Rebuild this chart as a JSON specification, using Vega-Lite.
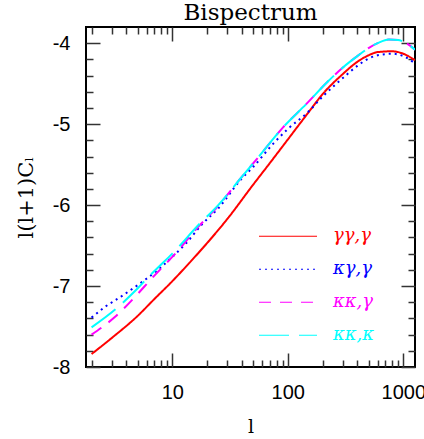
{
  "$schema": "https://vega.github.io/schema/vega-lite/v6.json",
  "width": 329,
  "height": 340,
  "autosize": "none",
  "padding": {"left": 86, "top": 27, "right": 9, "bottom": 72},
  "background": "white",
  "title": {"text": "Bispectrum", "font": "DejaVu Serif", "fontSize": 23, "fontWeight": "normal", "color": "black", "offset": 1, "anchor": "middle", "frame": "group"},
  "config": {"view": {"stroke": "black", "strokeWidth": 2}},
  "data": {"values": [
    {"l": 2, "v": -7.84, "s": "γγ,γ"}, {"l": 3, "v": -7.64, "s": "γγ,γ"}, {"l": 5, "v": -7.37, "s": "γγ,γ"}, {"l": 7, "v": -7.16, "s": "γγ,γ"}, {"l": 10, "v": -6.94, "s": "γγ,γ"}, {"l": 15, "v": -6.67, "s": "γγ,γ"}, {"l": 20, "v": -6.47, "s": "γγ,γ"}, {"l": 30, "v": -6.17, "s": "γγ,γ"}, {"l": 50, "v": -5.75, "s": "γγ,γ"}, {"l": 70, "v": -5.48, "s": "γγ,γ"}, {"l": 100, "v": -5.19, "s": "γγ,γ"}, {"l": 150, "v": -4.86, "s": "γγ,γ"}, {"l": 200, "v": -4.63, "s": "γγ,γ"}, {"l": 300, "v": -4.38, "s": "γγ,γ"}, {"l": 400, "v": -4.23, "s": "γγ,γ"}, {"l": 500, "v": -4.15, "s": "γγ,γ"}, {"l": 600, "v": -4.11, "s": "γγ,γ"}, {"l": 800, "v": -4.10, "s": "γγ,γ"}, {"l": 1000, "v": -4.13, "s": "γγ,γ"}, {"l": 1263, "v": -4.21, "s": "γγ,γ"},
    {"l": 2, "v": -7.39, "s": "κγ,γ"}, {"l": 2.6, "v": -7.26, "s": "κγ,γ"}, {"l": 3.6, "v": -7.13, "s": "κγ,γ"}, {"l": 5, "v": -6.99, "s": "κγ,γ"}, {"l": 7.8, "v": -6.78, "s": "κγ,γ"}, {"l": 10, "v": -6.64, "s": "κγ,γ"}, {"l": 13, "v": -6.48, "s": "κγ,γ"}, {"l": 18, "v": -6.24, "s": "κγ,γ"}, {"l": 25, "v": -6.04, "s": "κγ,γ"}, {"l": 40, "v": -5.67, "s": "κγ,γ"}, {"l": 50, "v": -5.53, "s": "κγ,γ"}, {"l": 75, "v": -5.24, "s": "κγ,γ"}, {"l": 100, "v": -5.06, "s": "κγ,γ"}, {"l": 150, "v": -4.85, "s": "κγ,γ"}, {"l": 200, "v": -4.66, "s": "κγ,γ"}, {"l": 300, "v": -4.43, "s": "κγ,γ"}, {"l": 400, "v": -4.28, "s": "κγ,γ"}, {"l": 500, "v": -4.19, "s": "κγ,γ"}, {"l": 600, "v": -4.15, "s": "κγ,γ"}, {"l": 800, "v": -4.13, "s": "κγ,γ"}, {"l": 1000, "v": -4.16, "s": "κγ,γ"}, {"l": 1263, "v": -4.25, "s": "κγ,γ"},
    {"l": 2, "v": -7.60, "s": "κκ,γ"}, {"l": 3.2, "v": -7.38, "s": "κκ,γ"}, {"l": 5, "v": -7.10, "s": "κκ,γ"}, {"l": 6.5, "v": -6.92, "s": "κκ,γ"}, {"l": 7.8, "v": -6.80, "s": "κκ,γ"}, {"l": 10, "v": -6.64, "s": "κκ,γ"}, {"l": 17, "v": -6.26, "s": "κκ,γ"}, {"l": 25, "v": -6.01, "s": "κκ,γ"}, {"l": 38, "v": -5.69, "s": "κκ,γ"}, {"l": 57, "v": -5.39, "s": "κκ,γ"}, {"l": 91, "v": -5.04, "s": "κκ,γ"}, {"l": 145, "v": -4.75, "s": "κκ,γ"}, {"l": 220, "v": -4.48, "s": "κκ,γ"}, {"l": 300, "v": -4.30, "s": "κκ,γ"}, {"l": 400, "v": -4.16, "s": "κκ,γ"}, {"l": 500, "v": -4.06, "s": "κκ,γ"}, {"l": 600, "v": -4.00, "s": "κκ,γ"}, {"l": 750, "v": -3.955, "s": "κκ,γ"}, {"l": 900, "v": -3.96, "s": "κκ,γ"}, {"l": 1000, "v": -3.98, "s": "κκ,γ"}, {"l": 1263, "v": -4.08, "s": "κκ,γ"},
    {"l": 2, "v": -7.51, "s": "κκ,κ"}, {"l": 3.2, "v": -7.29, "s": "κκ,κ"}, {"l": 5, "v": -7.03, "s": "κκ,κ"}, {"l": 6.5, "v": -6.86, "s": "κκ,κ"}, {"l": 7.8, "v": -6.75, "s": "κκ,κ"}, {"l": 10, "v": -6.60, "s": "κκ,κ"}, {"l": 17, "v": -6.24, "s": "κκ,κ"}, {"l": 25, "v": -6.00, "s": "κκ,κ"}, {"l": 38, "v": -5.69, "s": "κκ,κ"}, {"l": 57, "v": -5.39, "s": "κκ,κ"}, {"l": 91, "v": -5.04, "s": "κκ,κ"}, {"l": 145, "v": -4.75, "s": "κκ,κ"}, {"l": 220, "v": -4.48, "s": "κκ,κ"}, {"l": 300, "v": -4.30, "s": "κκ,κ"}, {"l": 400, "v": -4.16, "s": "κκ,κ"}, {"l": 500, "v": -4.06, "s": "κκ,κ"}, {"l": 600, "v": -4.00, "s": "κκ,κ"}, {"l": 750, "v": -3.955, "s": "κκ,κ"}, {"l": 900, "v": -3.96, "s": "κκ,κ"}, {"l": 1000, "v": -3.98, "s": "κκ,κ"}, {"l": 1263, "v": -4.08, "s": "κκ,κ"}
  ]},
  "layer": [
    {
      "mark": {"type": "line", "strokeWidth": 2, "clip": true, "interpolate": "monotone"},
      "encoding": {
        "x": {"field": "l", "type": "quantitative", "scale": {"type": "log", "domain": [1.79, 1263], "nice": false},
          "axis": {"orient": "bottom", "values": [2,3,4,5,6,7,8,9,10,20,30,40,50,60,70,80,90,100,200,300,400,500,600,700,800,900,1000],
            "labelExpr": "indexof([10,100,1000], datum.value) >= 0 ? '' + datum.value : ''",
            "tickSize": {"condition": {"test": "indexof([10,100,1000], datum.value) >= 0", "value": -14}, "value": -7},
            "tickColor": "#333", "tickWidth": 1.5, "domain": false, "grid": false,
            "labelFont": "Liberation Sans", "labelFontSize": 20, "labelColor": "black", "labelPadding": 29, "labelFlush": false, "labelOverlap": false,
            "title": "l", "titleFont": "DejaVu Serif", "titleFontSize": 19, "titleFontWeight": "normal", "titleColor": "black", "titlePadding": 8}},
        "y": {"field": "v", "type": "quantitative", "scale": {"domain": [-8, -3.8], "nice": false, "zero": false},
          "axis": {"orient": "left", "values": [-8,-7.8,-7.6,-7.4,-7.2,-7,-6.8,-6.6,-6.4,-6.2,-6,-5.8,-5.6,-5.4,-5.2,-5,-4.8,-4.6,-4.4,-4.2,-4],
            "labelExpr": "datum.value % 1 == 0 ? '' + datum.value : ''",
            "tickSize": {"condition": {"test": "datum.value % 1 == 0", "value": -14}, "value": -7},
            "tickColor": "#333", "tickWidth": 1.5, "domain": false, "grid": false,
            "labelFont": "Liberation Sans", "labelFontSize": 20, "labelColor": "black", "labelPadding": 30, "labelFlush": false, "labelOverlap": false,
            "title": "l(l+1)Cₗ", "titleFont": "DejaVu Serif", "titleFontSize": 21, "titleFontWeight": "normal", "titleColor": "black", "titlePadding": 16}},
        "color": {"field": "s", "type": "nominal",
          "scale": {"domain": ["γγ,γ", "κγ,γ", "κκ,γ", "κκ,κ"], "range": ["#ff0000", "#0000ff", "#ff00ff", "#00ffff"]},
          "legend": {"orient": "none", "legendX": 172, "legendY": 193, "title": null, "symbolType": "stroke", "symbolSize": 3364, "symbolStrokeWidth": 1.2,
            "labelFont": "DejaVu Serif", "labelFontStyle": "italic", "labelFontSize": 18, "labelOffset": 15, "padding": 0, "rowPadding": 0, "clipHeight": 32.5,
            "encode": {"labels": {"update": {"fill": {"scale": "color", "field": "value"}}}}}},
        "strokeDash": {"field": "s", "type": "nominal",
          "scale": {"domain": ["γγ,γ", "κγ,γ", "κκ,γ", "κκ,κ"], "range": [[1, 0], [2, 4], [12, 9], [30, 10]]},
          "legend": {"orient": "none", "legendX": 172, "legendY": 193, "title": null, "symbolType": "stroke", "symbolSize": 3364, "symbolStrokeWidth": 1.2,
            "labelFont": "DejaVu Serif", "labelFontStyle": "italic", "labelFontSize": 18, "labelOffset": 15, "padding": 0, "rowPadding": 0, "clipHeight": 32.5,
            "encode": {"labels": {"update": {"fill": {"scale": "color", "field": "value"}}}}}}
      }
    },
    {
      "mark": {"type": "line", "opacity": 0},
      "encoding": {
        "x": {"field": "l", "type": "quantitative", "scale": {"type": "log", "domain": [1.79, 1263], "nice": false},
          "axis": {"orient": "top", "values": [2,3,4,5,6,7,8,9,10,20,30,40,50,60,70,80,90,100,200,300,400,500,600,700,800,900,1000],
            "labels": false, "title": null,
            "tickSize": {"condition": {"test": "indexof([10,100,1000], datum.value) >= 0", "value": -14}, "value": -7},
            "tickColor": "#333", "tickWidth": 1.5, "domain": false, "grid": false}},
        "y": {"field": "v", "type": "quantitative", "scale": {"domain": [-8, -3.8], "nice": false, "zero": false},
          "axis": {"orient": "right", "values": [-8,-7.8,-7.6,-7.4,-7.2,-7,-6.8,-6.6,-6.4,-6.2,-6,-5.8,-5.6,-5.4,-5.2,-5,-4.8,-4.6,-4.4,-4.2,-4],
            "labels": false, "title": null,
            "tickSize": {"condition": {"test": "datum.value % 1 == 0", "value": -14}, "value": -7},
            "tickColor": "#333", "tickWidth": 1.5, "domain": false, "grid": false}}
      }
    }
  ],
  "resolve": {"axis": {"x": "independent", "y": "independent"}}
}
